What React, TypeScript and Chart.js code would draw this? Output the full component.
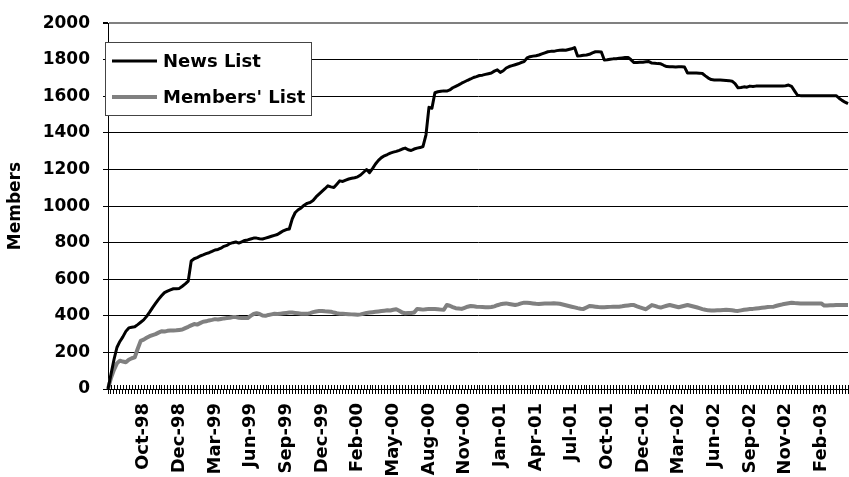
import React, { useEffect, useRef } from 'react';
import { Chart, registerables } from 'chart.js';

Chart.register(...registerables);

const FONT = "'DejaVu Sans', 'Liberation Sans', sans-serif";

// Tick labels shown every 12 weeks (index 12, 24, ... 240)
const TICK_LABELS = [
  'Oct-98', 'Dec-98', 'Mar-99', 'Jun-99', 'Sep-99', 'Dec-99', 'Feb-00', 'May-00', 'Aug-00', 'Nov-00',
  'Jan-01', 'Apr-01', 'Jul-01', 'Oct-01', 'Dec-01', 'Mar-02', 'Jun-02', 'Sep-02', 'Nov-02', 'Feb-03',
];
const TICK_EVERY = 12;

const SERIES_NAMES = ['News List', "Members' List"];

const NEWS_LIST = [
  0, 80, 160, 227, 260, 285, 315, 334, 338, 340,
  352, 365, 378, 397, 420, 445, 468, 490, 510, 527,
  535, 542, 548, 548, 550, 562, 575, 590, 700, 712,
  718, 727, 733, 740, 745, 752, 760, 763, 770, 780,
  785, 795, 800, 804, 798, 805, 812, 815, 820, 825,
  825, 822, 820, 825, 830, 835, 840, 845, 855, 865,
  872, 875, 930, 965, 980, 990, 1005, 1015, 1020, 1031,
  1050, 1065, 1080, 1095, 1111, 1105, 1102, 1120, 1138, 1135,
  1142, 1148, 1152, 1155, 1160, 1170, 1185, 1200, 1183, 1205,
  1230, 1250, 1265, 1275, 1282, 1290, 1295, 1299, 1305, 1312,
  1317, 1308, 1304, 1312, 1317, 1320, 1326, 1390, 1540, 1535,
  1620, 1625, 1628, 1630, 1629, 1635, 1647, 1655, 1663, 1672,
  1680, 1688, 1695, 1703, 1708, 1714, 1716, 1720, 1724, 1728,
  1738, 1745, 1731, 1740, 1755, 1763, 1768, 1773, 1778, 1785,
  1790, 1810, 1817, 1820, 1822, 1826, 1832, 1838, 1844, 1846,
  1846, 1850, 1852, 1853, 1852, 1856, 1860, 1867, 1821, 1822,
  1825, 1826, 1830, 1838, 1844, 1844, 1843, 1799, 1800, 1803,
  1805, 1806, 1808, 1810, 1812, 1813, 1800, 1785, 1785, 1786,
  1787, 1789, 1790, 1782, 1781, 1779, 1778, 1770, 1763, 1762,
  1762, 1761, 1762, 1762, 1760, 1728, 1728, 1728, 1728, 1727,
  1725, 1712, 1700, 1692, 1690, 1690, 1689, 1688, 1687, 1686,
  1683, 1670, 1647, 1648, 1652, 1650, 1656, 1654, 1656, 1656,
  1656, 1656, 1656, 1656, 1656, 1656, 1656, 1657, 1658, 1662,
  1655, 1630, 1606, 1604, 1604, 1604, 1604, 1604, 1604, 1604,
  1604, 1604, 1604, 1604, 1604, 1604, 1590, 1578, 1568, 1560,
];

const MEMBERS_LIST = [
  0, 60, 105, 140, 155, 150, 146, 160, 168, 173,
  220, 263, 270, 280, 289, 295, 300, 308, 316, 314,
  318, 320, 320, 321, 323, 325, 333, 340, 348, 355,
  352, 360, 368, 370, 375, 378, 382, 380, 383, 386,
  388, 390, 393, 393, 390, 388, 388, 388, 400, 410,
  414, 410, 402, 400, 405, 408, 411, 410, 412, 414,
  416, 418, 418, 416, 414, 412, 411, 411, 415, 420,
  424, 426, 427, 425, 424, 423, 418, 414, 412, 411,
  410, 409, 408, 407, 406, 408, 412, 416, 418, 420,
  422, 424, 426, 428, 430, 429, 433, 436, 428, 418,
  414, 415, 416, 418, 438, 436, 434, 436, 438, 438,
  437, 436, 434, 433, 459, 455, 448, 442, 440, 438,
  444, 450, 454, 452, 450, 449, 448, 447, 447, 448,
  452, 458, 463, 466, 468, 465, 462, 459, 463, 468,
  472, 472, 470, 468, 466, 465, 466, 467, 468, 468,
  469, 468, 466, 462, 458, 454, 450, 446, 442, 439,
  438, 446, 454, 452, 450, 448, 447, 447, 448, 449,
  450, 450, 450, 452, 455, 457, 459, 459, 452, 446,
  441, 436, 448, 459, 454, 449, 445, 450, 455, 459,
  455, 451, 447, 451, 455, 459, 455, 451, 447, 442,
  437, 433, 430, 429, 429, 430, 431, 432, 433, 432,
  430, 428, 427, 430, 433, 435, 437, 438, 440, 442,
  444, 446, 448, 449, 450, 455, 459, 463, 466, 469,
  472, 470, 469, 468, 468, 468, 468, 468, 468, 468,
  468, 456, 457, 458, 458, 459, 459, 459, 459, 459,
];

// weekly categories starting 17 Jul 1998
const CATEGORIES = NEWS_LIST.map((_, i) => {
  const d = new Date(1998, 6, 17 + 7 * i);
  return `${d.getFullYear()}-${String(d.getMonth() + 1).padStart(2, '0')}-${String(d.getDate()).padStart(2, '0')}`;
});

const crossTicksPlugin = {
  id: 'crossTicks',
  beforeDatasetsDraw(chart: any) {
    const { ctx, chartArea } = chart;
    const xs = chart.scales.x;
    ctx.save();
    ctx.strokeStyle = '#000';
    ctx.lineWidth = 1;
    ctx.beginPath();
    for (let i = 0; i < CATEGORIES.length; i++) {
      const x = Math.round(xs.getPixelForValue(i)) + 0.5;
      ctx.moveTo(x, chartArea.bottom - 4);
      ctx.lineTo(x, chartArea.bottom);
    }
    ctx.stroke();
    ctx.restore();
  },
};

const boxLegendPlugin = {
  id: 'boxLegend',
  afterDatasetsDraw(chart: any) {
    const { ctx } = chart;
    ctx.save();
    const bx = 105.5, by = 42.5, bw = 206, bh = 73;
    ctx.fillStyle = '#fff';
    ctx.fillRect(bx, by, bw, bh);
    ctx.strokeStyle = '#444';
    ctx.lineWidth = 1;
    ctx.strokeRect(bx, by, bw, bh);
    const rows = [61, 97];
    chart.data.datasets.forEach((ds: any, i: number) => {
      const cy = rows[i];
      ctx.strokeStyle = ds.borderColor;
      ctx.lineWidth = ds.borderWidth;
      ctx.beginPath();
      ctx.moveTo(112, cy);
      ctx.lineTo(157, cy);
      ctx.stroke();
      ctx.fillStyle = '#000';
      ctx.font = `bold 18px ${FONT}`;
      ctx.textBaseline = 'middle';
      ctx.textAlign = 'left';
      ctx.fillText(ds.label, 163, cy + 1);
    });
    ctx.restore();
  },
};

export default function App() {
  const ref = useRef<HTMLCanvasElement | null>(null);

  useEffect(() => {
    if (!ref.current) return;
    const chart = new Chart(ref.current, {
      type: 'line',
      data: {
        labels: CATEGORIES,
        datasets: [
          {
            label: SERIES_NAMES[0],
            data: NEWS_LIST,
            borderColor: '#000000',
            borderWidth: 3,
            pointRadius: 0,
            tension: 0,
            fill: false,
            borderJoinStyle: 'round',
          },
          {
            label: SERIES_NAMES[1],
            data: MEMBERS_LIST,
            borderColor: '#808080',
            borderWidth: 4,
            pointRadius: 0,
            tension: 0,
            fill: false,
            borderJoinStyle: 'round',
          },
        ],
      },
      options: {
        animation: false,
        responsive: false,
        devicePixelRatio: 1,
        layout: { padding: { top: 16, right: 1, left: 0, bottom: 0 } },
        plugins: {
          legend: { display: false },
          tooltip: { enabled: false },
        },
        scales: {
          x: {
            type: 'category',
            offset: false,
            border: { display: true, color: '#000', width: 1 },
            grid: {
              display: true,
              drawOnChartArea: false,
              drawTicks: true,
              tickLength: 5,
              color: '#000',
              lineWidth: 1,
            },
            ticks: {
              autoSkip: false,
              maxRotation: 90,
              minRotation: 90,
              padding: 9,
              color: '#000',
              font: { family: FONT, size: 18, weight: 'bold' },
              callback: (_v: any, i: number) => {
                if (i > 0 && i % TICK_EVERY === 0) {
                  const k = i / TICK_EVERY - 1;
                  return k < TICK_LABELS.length ? TICK_LABELS[k] : '';
                }
                return '';
              },
            },
            afterFit: (s: any) => {
              s.height = 88;
              s.paddingLeft = 0;
              s.paddingRight = 0;
            },
          },
          y: {
            min: 0,
            max: 2000,
            border: { display: true, color: '#000', width: 1 },
            grid: {
              color: (c: any) => (c.tick && c.tick.value === 2000 ? '#808080' : '#000'),
              lineWidth: (c: any) => (c.tick && c.tick.value === 2000 ? 2 : 1),
              tickColor: '#000',
              tickLength: 5,
              drawTicks: true,
            },
            ticks: {
              stepSize: 200,
              padding: 13,
              color: '#000',
              font: { family: FONT, size: 17, weight: 'bold' },
              callback: (v: any) => String(v),
            },
            title: {
              display: true,
              text: 'Members',
              color: '#000',
              font: { family: FONT, size: 17, weight: 'bold' },
              padding: { top: 5, bottom: 0 },
            },
            afterFit: (s: any) => {
              s.width = 108;
            },
          },
        },
      },
      plugins: [crossTicksPlugin, boxLegendPlugin],
    } as any);
    return () => chart.destroy();
  }, []);

  return (
    <canvas
      ref={ref}
      width={849}
      height={477}
      style={{ position: 'absolute', left: 0, top: 0, width: 849, height: 477 }}
    />
  );
}
